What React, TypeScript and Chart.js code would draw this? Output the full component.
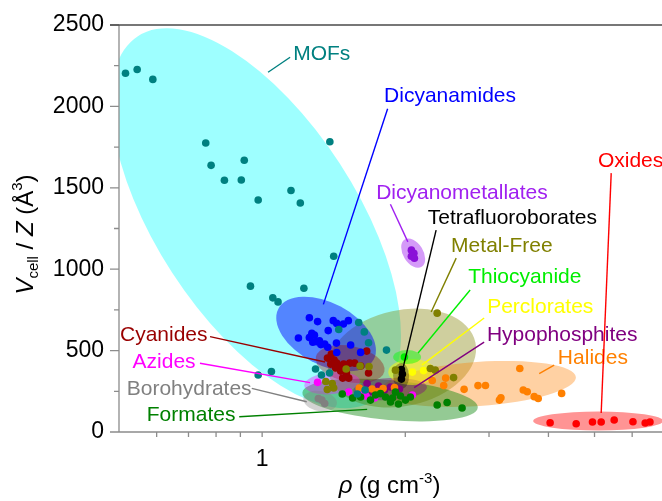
import React, { useEffect, useRef } from 'react';
import { Chart, registerables } from 'chart.js';
Chart.register(...registerables);

const FONT = '"Liberation Sans", Arial, Helvetica, sans-serif';

// ---- axis ticks ----
const xTickValues = [0.6, 0.7, 0.8, 0.9, 1, 2, 3, 4, 5, 6];
const xTickLabelled = [1];
const yTickValues = [0, 250, 500, 750, 1000, 1250, 1500, 1750, 2000, 2250, 2500];
const yMajorStep = 500;
const xRange = [0.5, 7];
const yRange = [0, 2500];

// ---- series: [rho (g cm-3), Vcell/Z (A^3)] ----
const mofs = [[0.516, 2204], [0.546, 2227], [0.589, 2166], [0.761, 1775], [0.781, 1638], [0.833, 1546], [0.904, 1548], [0.917, 1669], [0.981, 1425], [1.150, 1483], [1.203, 1407], [1.388, 1783], [1.414, 1080], [0.945, 896], [1.224, 883], [1.053, 824], [1.080, 799], [0.981, 350], [1.046, 372], [1.295, 387], [1.333, 350], [1.386, 362], [1.449, 630], [1.596, 673], [1.640, 615], [1.674, 548], [1.826, 503], [1.586, 233], [1.646, 258]];
const dicyanamides = [[1.192, 577], [1.257, 702], [1.308, 678], [1.411, 684], [1.435, 667], [1.482, 663], [1.518, 684], [1.377, 623], [1.272, 607], [1.257, 580], [1.288, 595], [1.320, 560], [1.303, 555], [1.329, 537], [1.354, 540], [1.433, 546], [1.535, 534], [1.611, 489], [1.435, 488], [1.278, 552], [1.374, 521]];
const metalFree = [[2.334, 730], [2.258, 390], [2.312, 380], [2.527, 334], [1.502, 387], [1.607, 405], [1.678, 402], [1.361, 310], [1.404, 298], [1.414, 270], [1.371, 261], [1.907, 380]];
const cyanides = [[1.372, 454], [1.398, 479], [1.417, 442], [1.435, 423], [1.454, 405], [1.394, 417], [1.484, 417], [1.528, 423], [1.565, 423], [1.428, 393], [1.463, 374], [1.504, 362], [1.477, 331], [1.521, 331], [1.659, 497], [1.674, 362], [1.611, 405]];
const formates = [[1.474, 233], [1.774, 236], [1.817, 215], [1.880, 209], [1.954, 221], [2.001, 196], [1.907, 245], [1.862, 184], [1.690, 196], [1.611, 215], [1.731, 227], [2.050, 215], [2.334, 166], [2.449, 181], [2.633, 147], [1.550, 209], [1.935, 172]];
const halides = [[1.600, 270], [1.703, 264], [1.748, 248], [1.796, 267], [1.898, 273], [2.279, 316], [2.409, 285], [2.432, 331], [2.659, 262], [2.844, 285], [2.949, 286], [3.155, 196], [3.178, 210], [3.482, 390], [3.541, 258], [3.610, 247], [3.734, 217], [3.807, 206], [4.264, 237]];
const azides = [[1.308, 305], [1.600, 239], [1.654, 221], [1.723, 209], [2.070, 227], [1.521, 245]];
const hypophosphites = [[1.662, 298], [1.757, 282], [1.862, 276], [1.944, 264], [1.808, 258], [1.707, 245]];
const borohydrates = [[1.313, 206], [1.354, 175], [1.335, 196]];
const perclorates = [[2.185, 377], [2.070, 368]];
const thiocyanide = [[1.992, 460]];
const tetrafluoroborates = [[1.963, 383], [1.972, 356], [1.963, 325]];
const dicyanometallates = [[2.060, 1117], [2.085, 1098], [2.060, 1080], [2.090, 1067]];
const oxides = [[4.033, 57], [4.575, 51], [4.951, 61], [5.164, 61], [5.500, 74], [6.023, 63], [6.391, 55], [6.540, 61]];

const categories = ['MOFs', 'Dicyanamides', 'Metal-Free', 'Cyanides', 'Formates', 'Halides', 'Azides', 'Hypophosphites', 'Borohydrates', 'Perclorates', 'Thiocyanide', 'Tetrafluoroborates', 'Dicyanometallates', 'Oxides'];
const seriesValues = [mofs, dicyanamides, metalFree, cyanides, formates, halides, azides, hypophosphites, borohydrates, perclorates, thiocyanide, tetrafluoroborates, dicyanometallates, oxides];
const pointColors = ['#008080', '#0000FF', '#808000', '#990000', '#008000', '#FF8000', '#FF00FF', '#800080', '#808080', '#FFFF00', '#00EE00', '#000000', '#8A10D8', '#FF0000'];
const labelColors = ['#008080', '#0000FF', '#808000', '#990000', '#008000', '#FF8000', '#FF00FF', '#800080', '#808080', '#FFFF00', '#00EE00', '#000000', '#A020F0', '#FF0000'];

// ---- group ellipses (center in data units; semi-axes px; rotation deg) ----
const ellipses = [
  { name: 'MOFs', rho: 0.971, v: 1313, rx: 217, ry: 100, rot: 57, fill: 'rgba(0,255,255,0.38)' },
  { name: 'Metal-Free', rho: 1.969, v: 454, rx: 75, ry: 48, rot: -12, fill: 'rgba(128,128,0,0.38)' },
  { name: 'Halides', rho: 2.846, v: 295, rx: 98, ry: 22, rot: -4, fill: 'rgba(255,128,0,0.36)' },
  { name: 'Formates', rho: 1.858, v: 196, rx: 88, ry: 20, rot: 5, fill: 'rgba(0,128,0,0.42)' },
  { name: 'Oxides', rho: 5.09, v: 68, rx: 65, ry: 9.5, rot: 0, fill: 'rgba(255,0,0,0.42)' },
  { name: 'Dicyanamides', rho: 1.363, v: 602, rx: 54, ry: 31, rot: 28, fill: 'rgba(0,0,255,0.48)' },
  { name: 'Cyanides', rho: 1.531, v: 417, rx: 35, ry: 18, rot: 12, fill: 'rgba(153,0,0,0.35)' },
  { name: 'Azides', rho: 1.403, v: 300, rx: 28, ry: 11, rot: -5, fill: 'rgba(255,0,255,0.35)' },
  { name: 'Hypophosphites', rho: 1.858, v: 264, rx: 37, ry: 11, rot: -3, fill: 'rgba(128,0,128,0.4)' },
  { name: 'Borohydrates', rho: 1.324, v: 190, rx: 17, ry: 10, rot: 10, fill: 'rgba(128,128,128,0.35)' },
  { name: 'Perclorates', rho: 2.068, v: 368, rx: 24, ry: 13, rot: 0, fill: 'rgba(255,255,0,0.5)' },
  { name: 'Thiocyanide', rho: 2.018, v: 460, rx: 14, ry: 7, rot: 0, fill: 'rgba(0,255,0,0.45)' },
  { name: 'Tetrafluoroborates', rho: 1.96, v: 344, rx: 13, ry: 8, rot: 90, fill: 'rgba(0,0,0,0.3)' },
  { name: 'Dicyanometallates', rho: 2.078, v: 1099, rx: 16, ry: 10, rot: 58, fill: 'rgba(160,32,240,0.45)' },
];

// ---- labels with leader lines (data units) ----
const callouts = [
  { name: 'MOFs', tx: 1.162, ty: 2320, from: [1.145, 2302], to: [1.029, 2210] },
  { name: 'Dicyanamides', tx: 1.805, ty: 2062, from: [1.836, 1986], to: [1.345, 784] },
  { name: 'Dicyanometallates', tx: 1.737, ty: 1467, from: [1.861, 1399], to: [2.025, 1168] },
  { name: 'Tetrafluoroborates', tx: 2.23, ty: 1312, from: [2.322, 1240], to: [1.969, 368] },
  { name: 'Metal-Free', tx: 2.497, ty: 1142, from: [2.559, 1068], to: [2.267, 737] },
  { name: 'Thiocyanide', tx: 2.712, ty: 951, from: [2.738, 872], to: [2.128, 485] },
  { name: 'Perclorates', tx: 2.973, ty: 767, from: [2.93, 700], to: [2.167, 411] },
  { name: 'Hypophosphites', tx: 2.969, ty: 595, from: [2.93, 552], to: [2.088, 273] },
  { name: 'Halides', tx: 4.187, ty: 452, from: [4.113, 411], to: [3.825, 359] },
  { name: 'Oxides', tx: 5.083, ty: 1665, from: [5.421, 1590], to: [5.164, 117] },
  { name: 'Cyanides', tx: 0.5024, ty: 595, from: [0.777, 586], to: [1.356, 430] },
  { name: 'Azides', tx: 0.534, ty: 430, from: [0.74, 422], to: [1.261, 303] },
  { name: 'Borohydrates', tx: 0.519, ty: 262, from: [0.951, 268], to: [1.241, 186] },
  { name: 'Formates', tx: 0.572, ty: 104, from: [0.895, 94], to: [1.663, 139] },
];

const AXIS = '#8c8c8c';

function drawRich(ctx: CanvasRenderingContext2D, segs: any[], x: number, y: number) {
  let w = 0;
  for (const s of segs) { ctx.font = s.font; w += ctx.measureText(s.t).width; }
  let cx = x - w / 2;
  for (const s of segs) {
    ctx.font = s.font;
    ctx.fillText(s.t, cx, y + (s.dy || 0));
    cx += ctx.measureText(s.t).width;
  }
}

const annotPlugin = {
  id: 'annot',
  beforeDatasetsDraw(chart: any) {
    const { ctx, chartArea: a, scales: { x, y } } = chart;
    ctx.save();
    ctx.beginPath();
    ctx.rect(a.left, a.top, a.right - a.left, a.bottom - a.top);
    ctx.clip();
    for (const e of ellipses) {
      const cx = x.getPixelForValue(e.rho);
      const cy = y.getPixelForValue(e.v);
      ctx.beginPath();
      ctx.ellipse(cx, cy, e.rx, e.ry, (e.rot * Math.PI) / 180, 0, Math.PI * 2);
      ctx.fillStyle = e.fill;
      ctx.fill();
    }
    ctx.restore();
  },
  afterDraw(chart: any) {
    const { ctx, chartArea: a, scales: { x, y } } = chart;
    ctx.save();
    // leader lines and labels
    for (const c of callouts) {
      const i = categories.indexOf(c.name);
      const col = labelColors[i];
      ctx.strokeStyle = col;
      ctx.lineWidth = 1.4;
      ctx.beginPath();
      ctx.moveTo(x.getPixelForValue(c.from[0]), y.getPixelForValue(c.from[1]));
      ctx.lineTo(x.getPixelForValue(c.to[0]), y.getPixelForValue(c.to[1]));
      ctx.stroke();
      ctx.fillStyle = col;
      ctx.font = `21px ${FONT}`;
      ctx.textAlign = 'left';
      ctx.textBaseline = 'middle';
      ctx.fillText(c.name, x.getPixelForValue(c.tx), y.getPixelForValue(c.ty));
    }
    // axes
    ctx.lineWidth = 1.3;
    ctx.strokeStyle = AXIS;
    ctx.beginPath();
    ctx.moveTo(a.left, a.top); ctx.lineTo(a.left, a.bottom);
    ctx.moveTo(a.left - 9, a.bottom); ctx.lineTo(a.right, a.bottom);
    for (const v of yTickValues) {
      const py = y.getPixelForValue(v);
      const len = v % yMajorStep === 0 ? 9 : 5;
      ctx.moveTo(a.left - len, py); ctx.lineTo(a.left, py);
    }
    for (const v of xTickValues) {
      const px = x.getPixelForValue(v);
      ctx.moveTo(px, a.bottom); ctx.lineTo(px, a.bottom + 5);
    }
    ctx.stroke();
    ctx.strokeStyle = '#4a4a4a';
    ctx.lineWidth = 1.3;
    ctx.beginPath();
    ctx.moveTo(a.left - 9, a.top); ctx.lineTo(a.right + 20, a.top);
    ctx.stroke();
    // axis titles
    ctx.fillStyle = '#000';
    ctx.textAlign = 'left';
    ctx.textBaseline = 'alphabetic';
    drawRich(ctx, [
      { t: '\u03C1', font: `italic 24px ${FONT}` },
      { t: ' (g cm', font: `24px ${FONT}` },
      { t: '-3', font: `15px ${FONT}`, dy: -10 },
      { t: ')', font: `24px ${FONT}` },
    ], (a.left + a.right) / 2 - 2, a.bottom + 61);
    ctx.translate(a.left - 86, (a.top + a.bottom) / 2 + 6);
    ctx.rotate(-Math.PI / 2);
    drawRich(ctx, [
      { t: 'V', font: `italic 24px ${FONT}` },
      { t: 'cell', font: `15px ${FONT}`, dy: 5 },
      { t: ' / ', font: `24px ${FONT}` },
      { t: 'Z', font: `italic 24px ${FONT}` },
      { t: ' (\u00C5', font: `24px ${FONT}` },
      { t: '3', font: `15px ${FONT}`, dy: -11 },
      { t: ')', font: `24px ${FONT}` },
    ], 0, 0);
    ctx.restore();
  },
};

export default function App() {
  const ref = useRef<HTMLCanvasElement>(null);
  useEffect(() => {
    if (!ref.current) return;
    const datasets = categories.map((name, i) => ({
      label: name,
      data: seriesValues[i].map(([r, v]) => ({ x: r, y: v })),
      backgroundColor: pointColors[i],
      borderWidth: 0,
      pointRadius: 3.8,
      pointHoverRadius: 3.8,
    }));
    const chart = new Chart(ref.current, {
      type: 'scatter',
      data: { datasets },
      options: {
        animation: false,
        responsive: false,
        devicePixelRatio: 1,
        layout: { padding: { top: 25, right: 16, left: 0, bottom: 0 } },
        plugins: { legend: { display: false }, tooltip: { enabled: false } },
        scales: {
          x: {
            type: 'logarithmic',
            min: xRange[0],
            max: xRange[1],
            afterBuildTicks: (s: any) => { s.ticks = xTickValues.map((v) => ({ value: v })); },
            afterFit: (s: any) => { s.height = 69; },
            ticks: {
              autoSkip: false,
              maxRotation: 0,
              padding: 9,
              color: '#000',
              font: { family: FONT, size: 23 },
              callback: (v: any) => (xTickLabelled.includes(Number(v)) ? String(v) : ''),
            },
            grid: { display: true, drawOnChartArea: false, drawTicks: true, tickLength: 5, tickColor: 'rgba(0,0,0,0)' },
            border: { display: false },
          },
          y: {
            type: 'linear',
            min: yRange[0],
            max: yRange[1],
            afterBuildTicks: (s: any) => { s.ticks = yTickValues.map((v) => ({ value: v })); },
            afterFit: (s: any) => { s.width = 119; },
            ticks: {
              autoSkip: false,
              padding: 6,
              color: '#000',
              font: { family: FONT, size: 23 },
              callback: (v: any) => (Number(v) % yMajorStep === 0 ? String(v) : ''),
            },
            grid: { display: true, drawOnChartArea: false, drawTicks: true, tickLength: 9, tickColor: 'rgba(0,0,0,0)' },
            border: { display: false },
          },
        },
      },
      plugins: [annotPlugin],
    } as any);
    return () => chart.destroy();
  }, []);
  return (
    <div style={{ position: 'fixed', left: 0, top: 0, width: 662, height: 501, overflow: 'hidden', background: '#fff' }}>
      <canvas ref={ref} width={680} height={501} style={{ display: 'block', width: 680, height: 501 }} />
    </div>
  );
}
